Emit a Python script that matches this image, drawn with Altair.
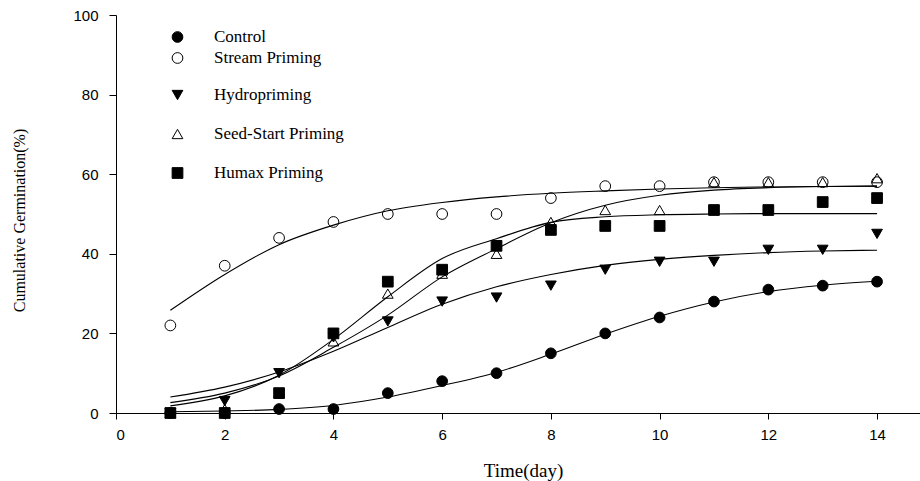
import altair as alt
import pandas as pd

days = list(range(1, 15))

group_a = ["Control", "Stream Priming"]
group_b = ["Hydropriming", "Seed-Start Priming", "Humax Priming"]

# observed cumulative germination (%)
control = [0, 0, 1, 1, 5, 8, 10, 15, 20, 24, 28, 31, 32, 33]
stream = [22, 37, 44, 48, 50, 50, 50, 54, 57, 57, 58, 58, 58, 58]
hydro = [0, 3, 10, 19, 23, 28, 29, 32, 36, 38, 38, 41, 41, 45]
seed = [0, 1, 5, 18, 30, 35, 40, 48, 51, 51, 58, 58, 58, 59]
humax = [0, 0, 5, 20, 33, 36, 42, 46, 47, 47, 51, 51, 53, 54]

# fitted curves at each day
fit_control = [0.3, 0.5, 0.9, 1.9, 4.0, 6.9, 10.2, 14.8, 19.8, 24.3, 27.9, 30.5, 32.1, 33.1]
fit_stream = [25.8, 34.8, 42.3, 47.2, 50.8, 52.9, 54.3, 55.2, 55.8, 56.3, 56.6, 56.8, 56.9, 57.0]
fit_hydro = [4.0, 6.5, 10.3, 15.5, 21.5, 27.3, 31.7, 34.8, 37.1, 38.6, 39.6, 40.3, 40.7, 40.9]
fit_seed = [2.6, 5.0, 9.3, 16.5, 24.6, 34.2, 41.3, 47.8, 52.2, 54.7, 56.0, 56.6, 56.9, 57.0]
fit_humax = [1.8, 4.3, 9.5, 18.5, 29.2, 38.8, 43.8, 47.9, 49.3, 49.8, 50.0, 50.1, 50.1, 50.1]

x_ticks = [0, 2, 4, 6, 8, 10, 12, 14]
y_ticks = [0, 20, 40, 60, 80, 100]

obs = {"Control": control, "Stream Priming": stream, "Hydropriming": hydro,
       "Seed-Start Priming": seed, "Humax Priming": humax}
fits = {"Control": fit_control, "Stream Priming": fit_stream, "Hydropriming": fit_hydro,
        "Seed-Start Priming": fit_seed, "Humax Priming": fit_humax}

pts = pd.DataFrame([{"day": d, "value": v, "treatment": t}
                    for t, vals in obs.items() for d, v in zip(days, vals)])
fit = pd.DataFrame([{"day": d, "value": v, "treatment": t}
                    for t, vals in fits.items() for d, v in zip(days, vals)])

x_enc = alt.X("day:Q",
              scale=alt.Scale(domain=[0, 14.79], nice=False, zero=False),
              axis=alt.Axis(values=x_ticks, title="Time(day)", grid=False,
                            tickSize=6, labelPadding=8,
                            labelFont="Liberation Sans", labelFontSize=15,
                            titleFont="Liberation Serif", titleFontSize=19,
                            titleFontWeight="normal", titleX=407, titleY=63,
                            titleBaseline="alphabetic"))
y_enc = alt.Y("value:Q",
              scale=alt.Scale(domain=[0, 100], nice=False),
              axis=alt.Axis(values=y_ticks, title="Cumulative Germination(%)", grid=False,
                            tickSize=7, labelPadding=11,
                            labelFont="Liberation Sans", labelFontSize=15,
                            titleFont="Liberation Serif", titleFontSize=16,
                            titleFontWeight="normal", titleX=-97, titleY=205,
                            titleBaseline="middle", titleAlign="center"))

lines = alt.Chart(fit).mark_line(color="black", strokeWidth=1.1, interpolate="monotone").encode(
    x=x_enc, y=y_enc, detail="treatment:N"
)


def legend_kw(lx, ly, rp):
    return dict(title=None, orient="none", legendX=lx, legendY=ly, rowPadding=rp,
                labelOffset=28, padding=0, labelFont="Liberation Serif",
                labelFontSize=17, labelColor="black", symbolSize=115,
                symbolStrokeColor="black", symbolStrokeWidth=1, labelLimit=400)


def layer_points(group, shapes, fills, lx, ly, rp):
    return alt.Chart(pts).transform_filter(
        alt.FieldOneOfPredicate(field="treatment", oneOf=group)
    ).mark_point(filled=True, strokeWidth=1, opacity=1, size=115).encode(
        x=x_enc, y=y_enc,
        shape=alt.Shape("treatment:N", scale=alt.Scale(domain=group, range=shapes),
                        legend=alt.Legend(**legend_kw(lx, ly, rp))),
        fill=alt.Fill("treatment:N", scale=alt.Scale(domain=group, range=fills),
                      legend=alt.Legend(**legend_kw(lx, ly, rp))),
        stroke=alt.Stroke("treatment:N",
                          scale=alt.Scale(domain=group, range=["black"] * len(group)),
                          legend=alt.Legend(**legend_kw(lx, ly, rp))),
    )


pts_a = layer_points(group_a, ["circle", "circle"], ["black", "transparent"], 53, 13.5, 3)
pts_b = layer_points(group_b, ["triangle-down", "triangle-up", "square"],
                     ["black", "transparent", "black"], 53, 71.5, 21)

chart = alt.layer(lines, pts_a, pts_b).resolve_scale(
    shape="independent", fill="independent", stroke="independent"
).properties(
    width=804, height=398,
    autosize=alt.AutoSizeParams(type="none"),
    padding={"left": 116, "top": 15, "right": 0, "bottom": 68},
    background="white",
).configure_view(stroke=None).configure_axis(
    domainColor="black", tickColor="black", labelColor="black", titleColor="black",
    domainWidth=1, tickWidth=1
)

chart.save("out.html", embed_options={"renderer": "svg", "actions": False})
